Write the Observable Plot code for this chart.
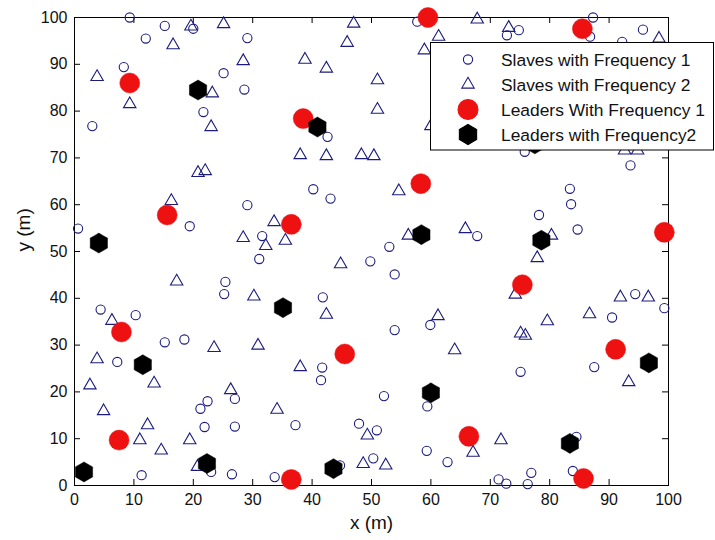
<!DOCTYPE html>
<html>
<head>
<meta charset="utf-8">
<script src="https://cdn.jsdelivr.net/npm/d3@7"></script>
<script src="https://cdn.jsdelivr.net/npm/@observablehq/plot@0.6"></script>
<style>
  html, body { margin: 0; padding: 0; background: #fff; }
  #chart { width: 715px; height: 540px; overflow: hidden; }
</style>
</head>
<body>
<div id="chart"></div>
<script>
// ---- data ----
const xTicks = [0, 10, 20, 30, 40, 50, 60, 70, 80, 90, 100];
const yTicks = [0, 10, 20, 30, 40, 50, 60, 70, 80, 90, 100];

const slavesFreq1 = [
  [9.3,100],[15.2,98.2],[12.0,95.5],[20.0,97.6],[8.3,89.4],[25.1,88.1],[21.7,79.8],[3.0,76.8],
  [28.6,84.6],[29.1,95.6],[42.6,74.5],[57.7,99.1],[74.8,97.3],[72.8,96.2],[87.3,100],[86.8,95.9],
  [95.7,97.4],[92.2,94.8],[75.8,71.3],[93.6,68.4],[83.4,63.4],[83.6,60.1],[78.2,57.8],[84.7,54.7],
  [67.8,53.3],[94.4,40.9],[99.3,37.9],[90.5,35.9],[87.5,25.3],[75.1,24.3],[62.8,5.0],[84.5,10.4],
  [83.9,3.1],[71.4,1.3],[72.7,0.4],[76.3,0.3],[76.9,2.7],[40.2,63.3],[43.1,61.3],[29.1,59.9],
  [31.6,53.3],[31.1,48.4],[49.8,47.9],[53.0,51.0],[53.9,45.1],[25.4,43.5],[25.2,40.9],[41.8,40.2],
  [59.9,34.3],[53.9,33.2],[19.4,55.4],[0.6,54.9],[4.4,37.6],[10.3,36.4],[15.2,30.6],[18.5,31.2],
  [7.2,26.4],[41.7,25.2],[41.5,22.5],[21.2,16.4],[22.4,18.0],[27.0,18.5],[21.9,12.5],[27.0,12.6],
  [23.0,2.9],[26.5,2.4],[11.3,2.2],[52.1,19.1],[59.4,16.9],[37.2,12.9],[47.9,13.2],[50.9,11.8],
  [59.3,7.4],[50.3,5.8],[44.7,4.3],[33.7,1.8]
];

const slavesFreq2 = [
  [19.6,98.1],[25.1,98.6],[16.6,94.1],[3.8,87.3],[9.3,81.5],[23.2,83.8],[23.0,76.6],[20.8,66.8],
  [22.0,67.2],[28.4,90.7],[47.0,98.7],[45.9,94.6],[38.8,91.0],[42.4,89.1],[51.0,86.6],[51.0,80.3],
  [38.0,70.6],[42.4,70.4],[48.3,70.6],[50.4,70.4],[61.3,95.9],[58.9,93.0],[67.8,99.6],[73.1,97.8],
  [98.4,95.5],[92.6,71.6],[94.8,71.6],[60.0,76.8],[54.6,62.9],[56.2,53.4],[65.8,54.8],[80.3,53.4],
  [77.9,48.6],[74.2,40.8],[91.9,40.2],[96.6,40.2],[86.7,36.6],[79.6,35.1],[75.1,32.5],[75.9,32.0],
  [61.2,36.2],[64.0,28.9],[93.3,22.1],[67.1,7.0],[71.8,9.7],[16.3,60.8],[33.6,56.3],[28.4,52.9],
  [32.2,51.2],[35.5,52.3],[44.8,47.3],[17.2,43.6],[30.2,40.4],[42.4,36.5],[6.3,35.2],[23.5,29.4],
  [30.9,29.9],[3.8,27.0],[38.0,25.3],[2.6,21.4],[13.4,21.8],[4.9,15.9],[26.3,20.4],[12.3,12.9],
  [11.0,9.7],[14.6,7.5],[19.4,9.7],[20.7,4.0],[34.1,16.2],[49.3,10.7],[48.6,4.6],[52.4,4.3]
];

const leadersFreq1 = [
  [9.3,86.0],[38.5,78.4],[59.5,100],[85.5,97.6],[58.3,64.5],[15.6,57.8],[36.5,55.8],[99.3,54.1],
  [75.4,42.9],[7.9,32.8],[45.5,28.1],[91.1,29.1],[7.5,9.7],[66.4,10.5],[36.5,1.3],[85.7,1.5]
];

const leadersFreq2 = [
  [20.8,84.5],[40.9,76.6],[77.5,73.0],[4.1,51.8],[58.4,53.6],[78.6,52.4],[35.1,38.0],[11.5,25.8],
  [60.0,19.8],[96.7,26.2],[83.4,9.0],[1.6,2.9],[22.3,4.7],[43.6,3.6]
];

const legendLabels = [
  "Slaves with Frequency 1",
  "Slaves with Frequency 2",
  "Leaders With Frequency 1",
  "Leaders with Frequency2"
];

// ---- styling ----
const navy = "#1c1c7e";
const red = "#ee1111";
const W = 715, H = 540;
const mL = 74, mR = 47, mT = 17, mB = 55;
const plotW = W - mL - mR, plotH = H - mT - mB;
const tickLen = 6;

// chunky filled hexagram symbol (MATLAB 'h' at low resolution)
const hexagram = {
  draw(ctx, size) {
    const R = Math.sqrt(size / Math.PI);
    const r = R * 0.86;
    for (let i = 0; i < 12; i++) {
      const a = -Math.PI / 2 + i * Math.PI / 6;
      const rad = i % 2 === 0 ? R : r;
      const px = rad * Math.cos(a), py = rad * Math.sin(a);
      if (i === 0) ctx.moveTo(px, py); else ctx.lineTo(px, py);
    }
    ctx.closePath();
  }
};

const chart = Plot.plot({
  width: W,
  height: H,
  marginLeft: mL,
  marginRight: mR,
  marginTop: mT,
  marginBottom: mB,
  style: {fontFamily: "'Liberation Sans', Arial, Helvetica, sans-serif", background: "#fff", color: "#000"},
  x: {domain: [0, 100]},
  y: {domain: [0, 100]},
  marks: [
    Plot.frame({stroke: "#000", strokeWidth: 1}),
    // inward ticks on all four sides
    Plot.tickX(xTicks, {x: d => d, insetTop: plotH - tickLen, stroke: "#000"}),
    Plot.tickX(xTicks, {x: d => d, insetBottom: plotH - tickLen, stroke: "#000"}),
    Plot.tickY(yTicks, {y: d => d, insetRight: plotW - tickLen, stroke: "#000"}),
    Plot.tickY(yTicks, {y: d => d, insetLeft: plotW - tickLen, stroke: "#000"}),
    Plot.axisX({ticks: xTicks, tickSize: 0, tickPadding: 8, fontSize: 16, label: null, fill: "#111"}),
    Plot.axisY({ticks: yTicks, tickSize: 0, tickPadding: 7, fontSize: 16, label: null, fill: "#111"}),
    Plot.text(["x (m)"], {frameAnchor: "bottom", dy: 43, fontSize: 19, fill: "#111"}),
    Plot.text(["y (m)"], {frameAnchor: "left", dx: -51, rotate: -90, fontSize: 19, fill: "#111"}),
    // data
    Plot.dot(slavesFreq1, {x: d => d[0], y: d => d[1], symbol: "circle", r: 4.6, stroke: navy, strokeWidth: 1.1, fill: "none"}),
    Plot.dot(slavesFreq2, {x: d => d[0], y: d => d[1], symbol: "triangle", r: 4.6, stroke: navy, strokeWidth: 1.1, fill: "none"}),
    Plot.dot(leadersFreq1, {x: d => d[0], y: d => d[1], symbol: "circle", r: 10, fill: red, stroke: red, strokeWidth: 0.5}),
    Plot.dot(leadersFreq2, {x: d => d[0], y: d => d[1], symbol: hexagram, r: 10, fill: "#000", stroke: "#000", strokeWidth: 0.5})
  ]
});

document.getElementById("chart").appendChild(chart);

// ---- legend box (top right, overlapping the axes like the reference) ----
const svg = d3.select(chart);
const lg = svg.append("g").attr("class", "legend").attr("text-anchor", "start");
const box = {x: 430.5, y: 42.5, w: 283, h: 107.5};
lg.append("rect")
  .attr("x", box.x).attr("y", box.y).attr("width", box.w).attr("height", box.h)
  .attr("fill", "#fff").attr("stroke", "#000").attr("stroke-width", 1);

const legendStyles = [
  {type: d3.symbolCircle, r: 4.6, fill: "none", stroke: navy},
  {type: d3.symbolTriangle, r: 4.6, fill: "none", stroke: navy},
  {type: d3.symbolCircle, r: 10, fill: red, stroke: red},
  {type: hexagram, r: 10, fill: "#000", stroke: "#000"}
];
const rowY = [59.5, 84.5, 109.5, 134.5];
legendLabels.forEach((label, i) => {
  const s = legendStyles[i];
  lg.append("path")
    .attr("transform", `translate(468,${rowY[i]})`)
    .attr("d", d3.symbol(s.type, Math.PI * s.r * s.r)())
    .attr("fill", s.fill).attr("stroke", s.stroke).attr("stroke-width", 1.1);
  lg.append("text")
    .attr("x", 501).attr("y", rowY[i]).attr("dy", "0.35em")
    .attr("text-anchor", "start")
    .attr("font-size", 17.4).attr("fill", "#111")
    .text(label);
});
</script>
</body>
</html>
